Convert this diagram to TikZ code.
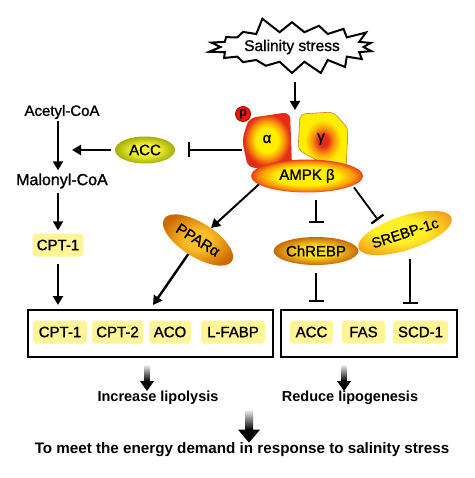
\documentclass[tikz,border=0pt]{standalone}
\usepackage{fontspec}
\setmainfont{Liberation Sans}
\newfontfamily\medium{Liberation Sans}[RawFeature={embolden=1.2}]
\usetikzlibrary{arrows.meta,shapes.geometric,shapes.symbols,calc}
\definecolor{hiy}{RGB}{255,244,150}
\definecolor{ampkY}{RGB}{255,238,0}
\definecolor{ampkO}{RGB}{250,150,10}
\definecolor{ampkR}{RGB}{228,45,25}
\definecolor{accIn}{RGB}{245,245,60}
\definecolor{accOut}{RGB}{160,170,0}
\definecolor{pparIn}{RGB}{252,190,40}
\definecolor{pparOut}{RGB}{205,105,0}
\definecolor{chIn}{RGB}{252,222,30}
\definecolor{chOut}{RGB}{200,105,10}
\definecolor{srIn}{RGB}{255,240,40}
\definecolor{srOut}{RGB}{242,145,20}
\definecolor{gamLine}{RGB}{205,125,40}
\pgfdeclareradialshading{alphash}{\pgfpoint{0bp}{0bp}}{color(0bp)=(ampkY); color(11bp)=(ampkY); color(17bp)=(ampkO); color(23bp)=(ampkR); color(50bp)=(ampkR)}
\pgfdeclareradialshading{gammash}{\pgfpoint{0bp}{0bp}}{color(0bp)=(ampkR); color(5bp)=(ampkR); color(11bp)=(ampkO); color(18bp)=(ampkY); color(50bp)=(ampkY)}
\pgfdeclareradialshading{betash}{\pgfpoint{0bp}{0bp}}{color(0bp)=(ampkY); color(14bp)=(ampkY); color(21bp)=(ampkO); color(26bp)=(ampkR); color(50bp)=(ampkR)}
\pgfdeclareradialshading{accsh}{\pgfpoint{0bp}{0bp}}{color(0bp)=(accIn); color(10bp)=(accIn); color(26bp)=(accOut); color(50bp)=(accOut)}
\pgfdeclareradialshading{pparsh}{\pgfpoint{0bp}{0bp}}{color(0bp)=(pparIn); color(8bp)=(pparIn); color(25bp)=(pparOut); color(50bp)=(pparOut)}
\pgfdeclareradialshading{chsh}{\pgfpoint{0bp}{0bp}}{color(0bp)=(chIn); color(10bp)=(chIn); color(25bp)=(chOut); color(50bp)=(chOut)}
\pgfdeclareradialshading{srsh}{\pgfpoint{-4bp}{4bp}}{color(0bp)=(srIn); color(12bp)=(srIn); color(32bp)=(srOut); color(50bp)=(srOut)}
\newcommand\gradarrow[5]{%
  \path #1 coordinate (ga1) #2 coordinate (ga2);
  \shade[top color=white, bottom color=black] ($(ga1)+(-#3,0)$) rectangle ($(ga2)+(#3,-#5)$);
  \fill[black] ($(ga2)+(-#4,-#5)$) -- ($(ga2)+(#4,-#5)$) -- (ga2) -- cycle;
}
\begin{document}
\begin{tikzpicture}[x=1pt,y=-1pt,
  arr/.style={line width=2pt, -{Triangle[length=9pt,width=10pt]}},
  inh/.style={line width=1.8pt, -{Bar[width=15pt,line width=2.2pt]}},
  lab/.style={inner sep=0pt, font=\fontsize{15}{18}\medium},
  hl/.style={fill=hiy, rounded corners=3pt, minimum height=23pt, inner xsep=4pt, inner ysep=0pt, font=\fontsize{15}{18}\medium},
  box/.style={draw, line width=2pt, minimum height=47pt},
  oval/.style={ellipse, inner sep=0pt, font=\fontsize{15}{18}\medium},
  bold/.style={inner sep=0pt, font=\fontsize{14.5}{18}\selectfont\bfseries}]
\useasboundingbox (0,0) rectangle (474,478);

% stress
\node[starburst, draw, line width=2pt, fill=white, starburst points=18,
  starburst point height=16pt, random starburst=5, minimum width=175pt,
  minimum height=62pt, inner sep=2pt, font=\fontsize{15.5}{18}\medium]
  (burst) at (292,47) {Salinity stress};
\coordinate (ampk) at (295,110);

% AMPK complex
\shade[shading=alphash, rounded corners=7pt]
  (249,118) -- (290,112) -- (292,167) -- (248,168) -- (242,140) -- cycle;
\shade[shading=gammash, draw=gamLine, line width=0.6pt, rounded corners=5pt]
  (300,114) -- (333,112) -- (348,128) -- (346,170) -- (322,163) -- (298,150) -- cycle;
\node[lab] (alpha) at (267,139) {α};
\node[lab] (gamma) at (321,139) {γ};
\node[oval, minimum width=112pt, minimum height=33pt, shade, shading=betash]
  (beta) at (307,176) {AMPK β};
\node[circle, fill=red!85!orange, draw=red!60!black, line width=0.8pt, inner sep=0pt,
  minimum size=15pt, font=\fontsize{13}{14}\selectfont\bfseries] (p) at (243,114) {p};
\coordinate (alphaW) at (242,150);

\draw[arr, shorten <=1pt] (ampk |- 0,81) -- (ampk);

% left column
\node[lab] (acetyl) at (62,112) {Acetyl-CoA};
\node[lab, font=\fontsize{16}{18}\medium] (malonyl) at (62,181) {Malonyl-CoA};
\node[hl] (cpt) at (58,245) {CPT-1};
\node[oval, minimum width=60pt, minimum height=27pt, shade, shading=accsh]
  (acc) at (145,150) {ACC};
\coordinate (mj) at (72,150);

\draw[arr, shorten <=2pt, shorten >=3pt] ([xshift=-4pt]acetyl.south) -- ([xshift=-4pt]malonyl.north);
\draw[arr, shorten <=4pt, shorten >=3pt] ([xshift=-4pt]malonyl.south) -- (cpt.north);
\draw[inh, shorten >=13pt] (alphaW) -- (acc.east);
\draw[arr, line width=2.4pt, shorten <=4pt] (acc.west) -- (mj);

% regulators
\node[oval, minimum width=80pt, minimum height=34pt, rotate=-32, shade, shading=pparsh]
  (ppar) at (198,240) {PPARα};
\node[oval, minimum width=72pt, minimum height=28pt, shade, shading=chsh]
  (chrebp) at (316,251) {ChREBP};
\node[oval, minimum width=86pt, minimum height=34pt, rotate=18, shade, shading=srsh,
  font=\fontsize{14.5}{18}\medium]
  (srebp) at (405,233) {SREBP-1c};
\coordinate (sIn) at (378,220);

% boxes
\node[box, minimum width=245pt] (lbox) at (150.5,333.5) {};
\node[box, minimum width=176pt] (rbox) at (369,333.5) {};
\node[hl, minimum width=54pt] (l1) at (60,332) {CPT-1};
\node[hl, minimum width=51pt] (l2) at (117.5,332) {CPT-2};
\node[hl, minimum width=42pt] (l3) at (170,332) {ACO};
\node[hl, minimum width=64pt] (l4) at (233,332) {L-FABP};
\node[hl, minimum width=43pt] (r1) at (311.5,332) {ACC};
\node[hl, minimum width=43pt] (r2) at (363.5,332) {FAS};
\node[hl, minimum width=55pt] (r3) at (420.5,332) {SCD-1};
\coordinate (pIn) at (153,305);

\draw[arr, line width=2.6pt, shorten <=7pt, shorten >=4pt] (cpt.south) -- (cpt.south |- lbox.north);
\draw[arr] (beta.190) -- (ppar);
\draw[arr, line width=2.4pt] (ppar) -- (pIn);
\draw[inh, shorten <=7pt, shorten >=14pt] (chrebp.north |- beta.south) -- (chrebp.north);
\draw[inh, shorten <=8pt, shorten >=7pt] (chrebp.south) -- (chrebp.south |- rbox.north);
\draw[inh, shorten <=2pt] (beta.-12) -- (sIn);
\draw[inh, shorten <=10pt, shorten >=5pt] (srebp.south) -- (srebp.south |- rbox.north);

% outcomes
\node[bold] (inc) at (158,398) {Increase lipolysis};
\node[bold] (red) at (350,398) {Reduce lipogenesis};
\node[bold, font=\fontsize{15.2}{18}\selectfont\bfseries] (final) at (242,450) {To meet the energy demand in response to salinity stress};
\gradarrow{([xshift=-3.5pt,yshift=-6pt]lbox.south)}{([xshift=-3.5pt]lbox.south |- inc.north)}{2.5}{7}{10}
\gradarrow{([xshift=-25pt,yshift=-6pt]rbox.south)}{([xshift=-25pt]rbox.south |- red.north)}{2.5}{7}{10}
\coordinate (bigS) at (249,409);
\gradarrow{(bigS)}{(bigS |- final.north)}{4}{11}{13}
\end{tikzpicture}
\end{document}
